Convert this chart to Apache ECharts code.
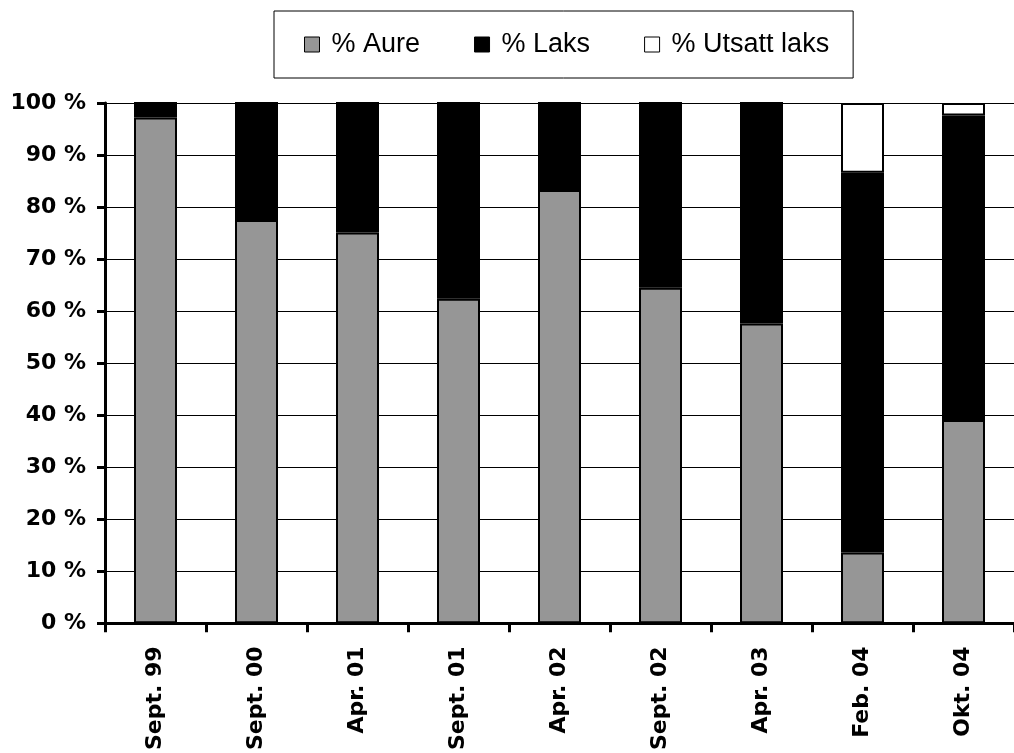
<!DOCTYPE html>
<html>
<head>
<meta charset="utf-8">
<script src="https://cdn.jsdelivr.net/npm/echarts@6/dist/echarts.min.js"></script>
<style>
    html, body { margin: 0; padding: 0; background: #fff; }
    #chart { width: 1014px; height: 753px; }
</style>
</head>
<body>
<div id="chart"></div>
<script>
// kategorier (x-akse)
var categories = ['Sept. 99', 'Sept. 00', 'Apr. 01', 'Sept. 01', 'Apr. 02', 'Sept. 02', 'Apr. 03', 'Feb. 04', 'Okt. 04'];
// andeler i prosent
var aure = [97.2, 77.5, 75.1, 62.4, 83.3, 64.5, 57.6, 13.6, 39.1];
var laks = [2.8, 22.5, 24.9, 37.6, 16.7, 35.5, 42.4, 73.0, 58.5];
var utsattLaks = [0, 0, 0, 0, 0, 0, 0, 13.4, 2.4];
var yTicks = [0, 100, 10]; // min, max, interval

var chart = echarts.init(document.getElementById('chart'));

var axisFont = {
    fontFamily: 'DejaVu Sans',
    fontWeight: 'bold',
    fontSize: 22,
    color: '#000'
};

function barSeries(name, data, fill) {
    return {
        name: name,
        type: 'bar',
        stack: 'total',
        barWidth: 43,
        data: data,
        itemStyle: {
            color: fill,
            borderColor: '#000',
            borderWidth: 2
        }
    };
}

var option = {
    animation: false,
    backgroundColor: '#fff',
    legend: {
        left: 274,
        top: 11,
        padding: [20, 24, 20, 30],
        borderColor: '#000',
        borderWidth: 1,
        itemGap: 54,
        itemWidth: 15,
        itemHeight: 15,
        icon: 'rect',
        itemStyle: { borderColor: '#000', borderWidth: 1 },
        textStyle: {
            fontFamily: 'Liberation Sans',
            fontSize: 27,
            color: '#000',
            padding: [0, 0, 0, 7]
        },
        data: ['% Aure', '% Laks', '% Utsatt laks']
    },
    grid: {
        left: 105,
        top: 103,
        width: 921,
        height: 524
    },
    xAxis: {
        type: 'category',
        data: categories,
        axisLine: { lineStyle: { color: '#000', width: 3 } },
        axisTick: { show: true, length: 9, lineStyle: { color: '#000', width: 3 } },
        axisLabel: Object.assign({ rotate: 90, interval: 0, margin: 23 }, axisFont),
        splitLine: { show: false }
    },
    yAxis: {
        type: 'value',
        min: yTicks[0],
        max: yTicks[1],
        interval: yTicks[2],
        axisLine: { show: true, lineStyle: { color: '#000', width: 3 } },
        axisTick: { show: true, length: 8, lineStyle: { color: '#000', width: 3 } },
        axisLabel: Object.assign({ margin: 19, formatter: '{value} %' }, axisFont),
        splitLine: { show: true, lineStyle: { color: '#000', width: 1 } }
    },
    series: [
        barSeries('% Aure', aure, '#969696'),
        barSeries('% Laks', laks, '#000'),
        barSeries('% Utsatt laks', utsattLaks, '#fff')
    ]
};

chart.setOption(option);
</script>
</body>
</html>
